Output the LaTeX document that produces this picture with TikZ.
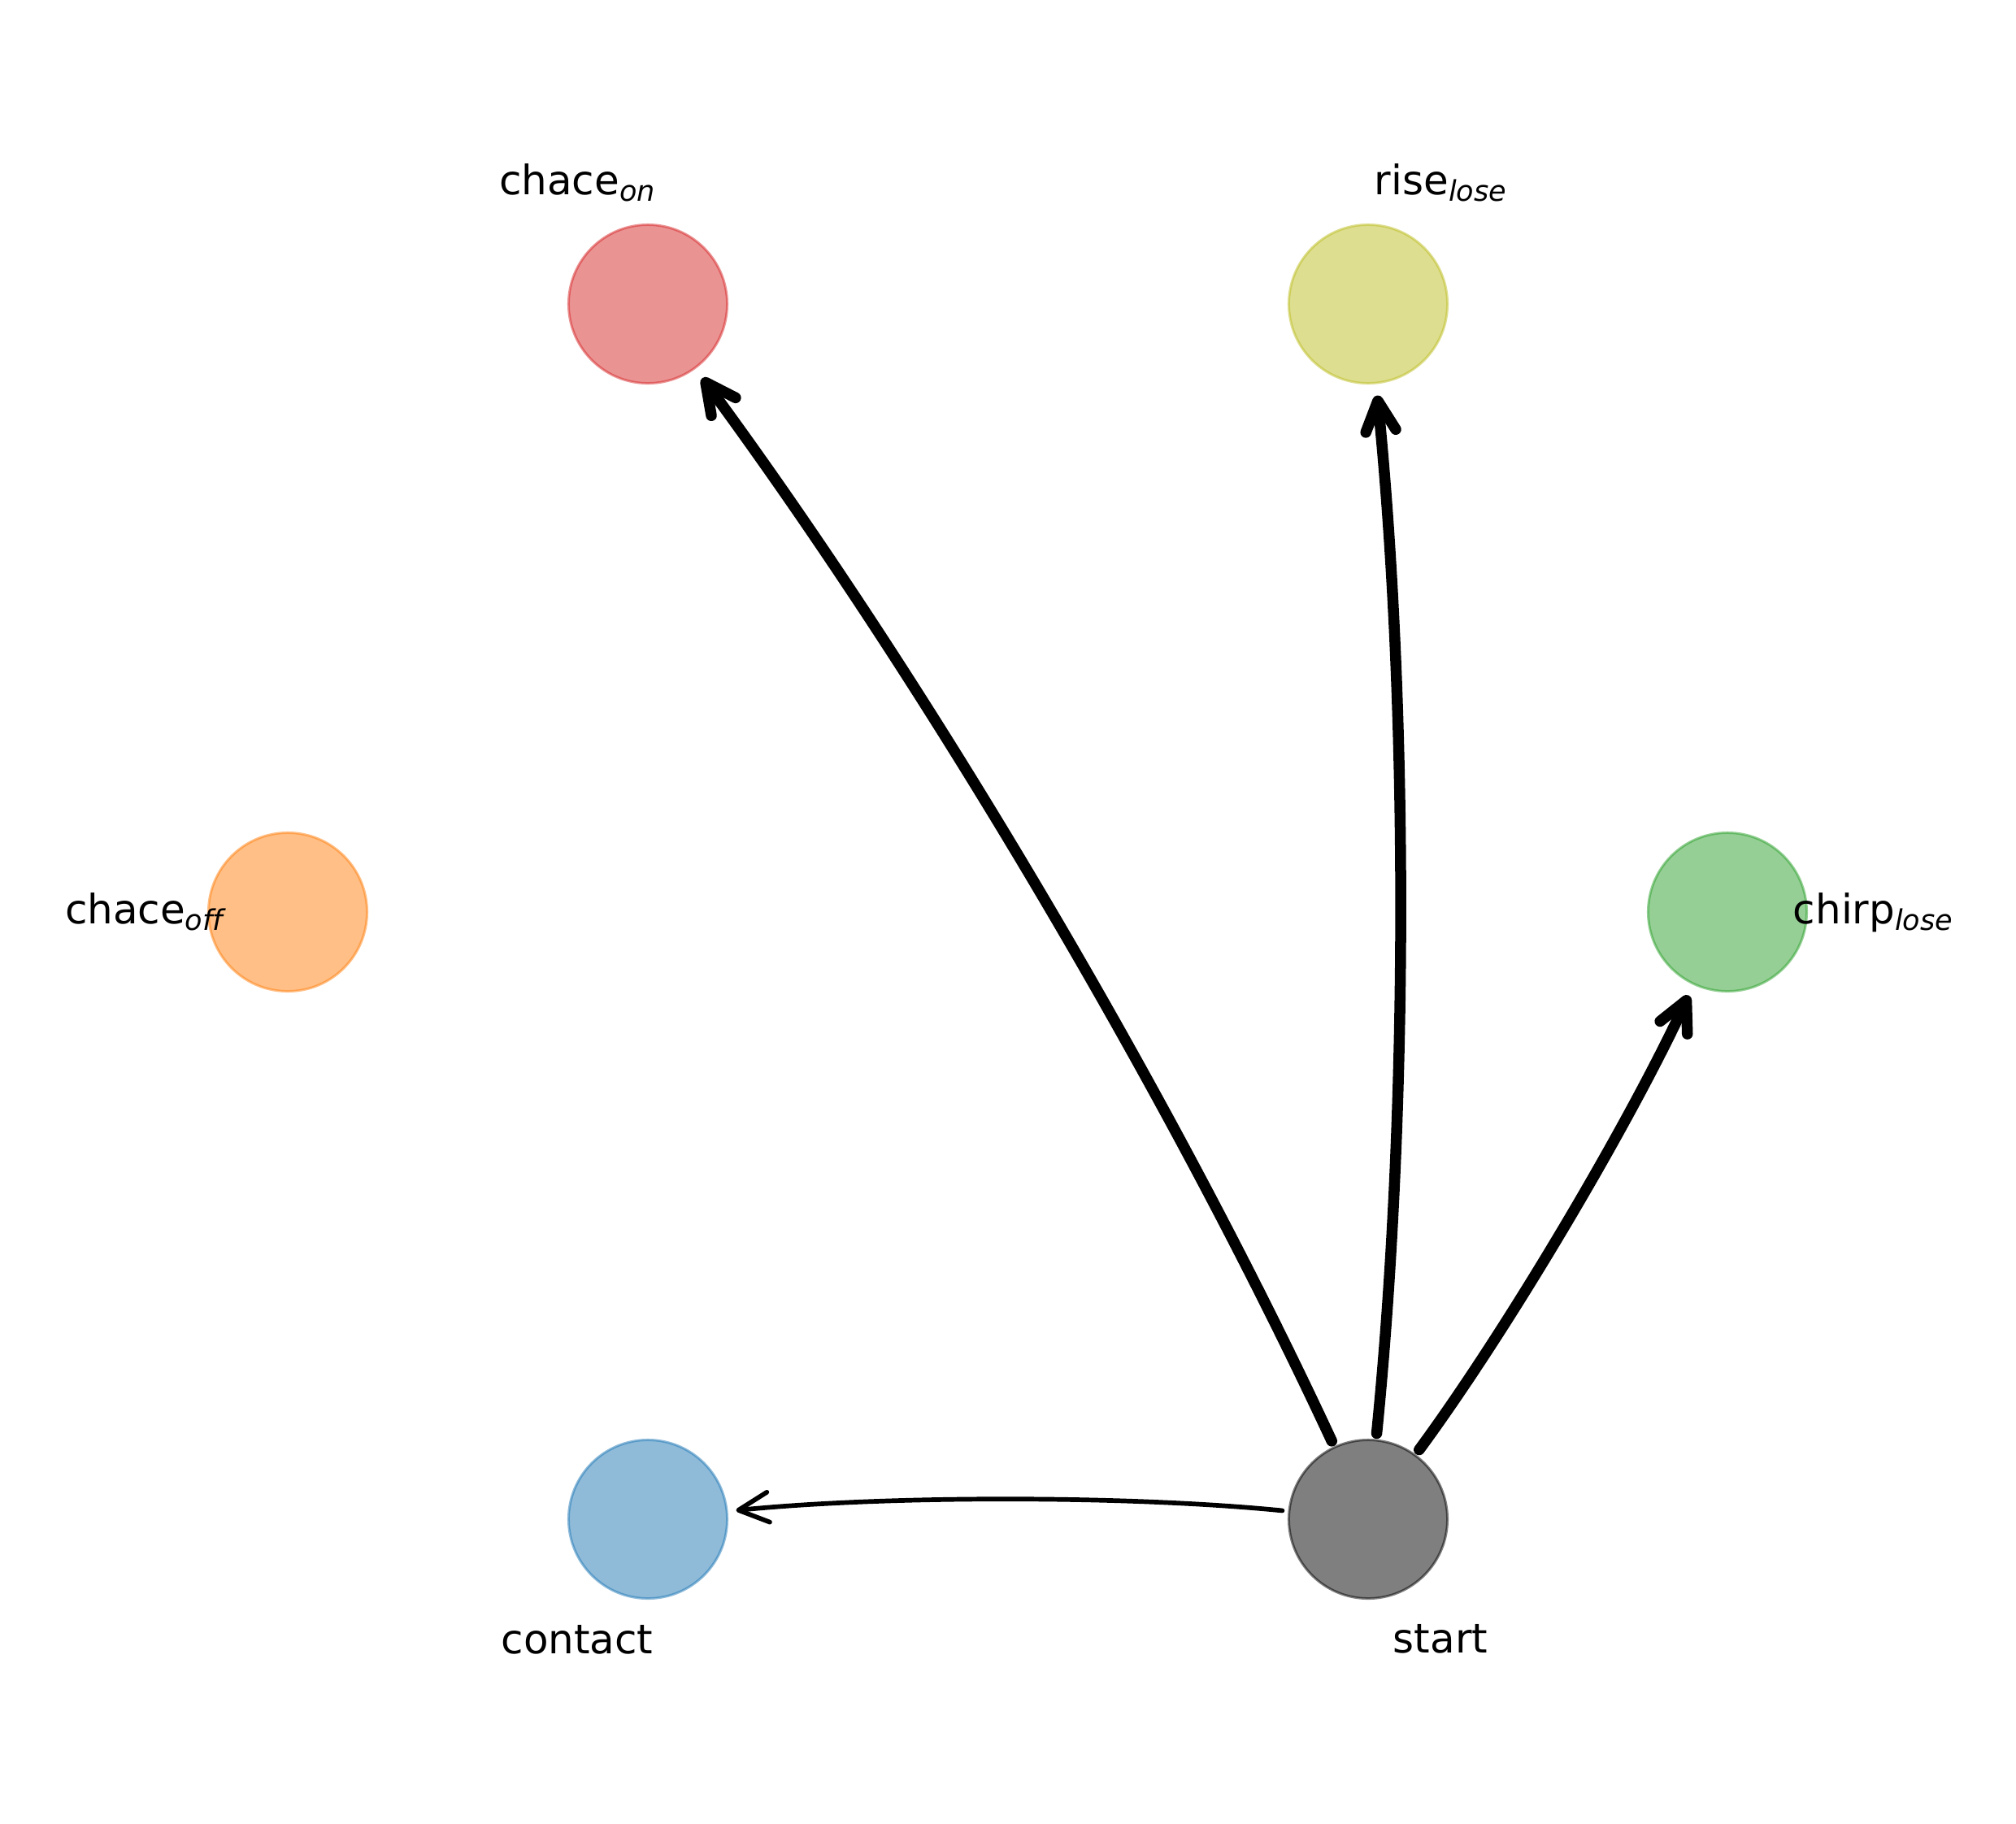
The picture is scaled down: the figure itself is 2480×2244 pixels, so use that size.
\documentclass[tikz,border=0pt]{standalone}
\usepackage{fontspec}
\setmainfont{DejaVu Sans}
\usetikzlibrary{arrows.meta}
\definecolor{tabred}{HTML}{D62728}
\definecolor{tabolive}{HTML}{BCBD22}
\definecolor{tabgreen}{HTML}{2CA02C}
\definecolor{taborange}{HTML}{FF7F0E}
\definecolor{tabblue}{HTML}{1F77B4}
\newcommand\lbsub[1]{\raisebox{-0.08cm}{\fontsize{9.96pt}{12pt}\selectfont\itshape #1}}
\begin{document}
\begin{tikzpicture}[x=0.01cm, y=-0.01cm,
  vert/.style={circle, minimum size=1.95cm, inner sep=0pt, line width=0.03cm,
    fill=#1, draw=#1, fill opacity=0.5, draw opacity=0.5},
  lbl/.style={anchor=base, inner sep=0pt, font=\fontsize{14.2pt}{17pt}\selectfont},
  edgebase/.style={line cap=round, line join=round, bend right=5.71, looseness=0.8557,
    -{Straight Barb[length=3.7mm, width=3.7mm, round]}, shorten <=1.06cm},
  edgethick/.style={edgebase, line width=0.135cm, shorten >=1.13cm},
  edgethin/.style={edgebase, line width=0.057cm, shorten >=1.09cm}
]
\useasboundingbox (0,0) rectangle (2480,2244);
% nodes
\node[vert=tabred]    (chaceon)  at (797,374)   {};
\node[vert=tabolive]  (riselose) at (1683,374)  {};
\node[vert=taborange] (chaceoff) at (354,1122)  {};
\node[vert=tabgreen]  (chirplose) at (2125,1122) {};
\node[vert=tabblue]   (contact)  at (797,1869)  {};
\node[vert=black]     (start)    at (1683,1869) {};
% labels
\node[lbl] (lchaceon)   at (710,239)   {chace\lbsub{on}};
\node[lbl] (lriselose)  at (1772,239)  {rise\lbsub{lose}};
\node[lbl] (lchaceoff)  at (177,1136)  {chace\lbsub{of\kern0pt f}};
\node[lbl] (lchirplose) at (2304,1136) {chirp\lbsub{lose}};
\node[lbl] (lcontact)   at (710,2034)  {contact};
\node[lbl] (lstart)     at (1772,2033) {start};
% edges
\draw[edgethick] (start.center) to (chaceon.center);
\draw[edgethick] (start.center) to (riselose.center);
\draw[edgethick] (start.center) to (chirplose.center);
\draw[edgethin]  (start.center) to (contact.center);
\end{tikzpicture}
\end{document}
